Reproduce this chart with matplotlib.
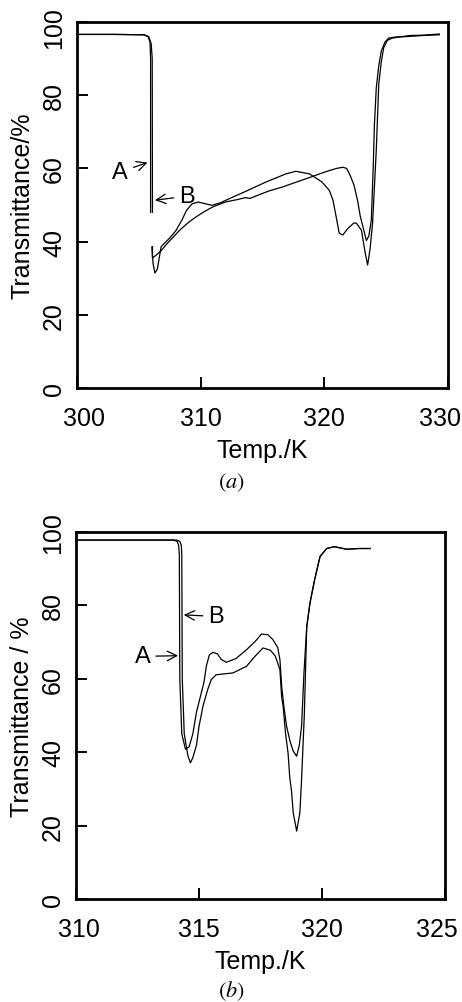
import numpy as np
import matplotlib.pyplot as plt
from matplotlib.transforms import ScaledTranslation

plt.rcParams['font.family'] = ['Liberation Sans', 'DejaVu Sans']
plt.rcParams['mathtext.fontset'] = 'stix'

nan = np.nan

# panel (a): temperature (K) and transmittance (%)
a_temp_A = [300.2, 303.0, 305.4, 305.75, 305.9, 305.95, 305.95, nan,
            306.05, 306.15, 306.3, 306.5, 306.8, 307.5, 308.0, 308.5, 308.85,
            309.3, 309.8, 310.3, 310.9, 311.6, 312.3, 313.5, 315.3, 316.9,
            317.7, 318.8, 319.8, 320.4, 320.7, 321.0, 321.2, 321.5, 321.9,
            322.4, 322.6, 323.0, 323.3, 323.5, 323.7, 323.9, 324.05, 324.2,
            324.4, 324.6, 324.8, 325.1, 325.5, 326.9, 328.0, 329.3]
a_trans_A = [96.6, 96.6, 96.5, 96.0, 94.5, 90, 48, nan,
             38.5, 34, 31.4, 32.5, 38.6, 41.0, 43.0, 46.0, 48.5,
             50.3, 50.8, 50.4, 49.9, 50.6, 51.7, 53.5, 56.3, 58.5,
             59.2, 58.5, 56.3, 54.0, 51.3, 46.0, 42.3, 41.8, 43.6,
             45.1, 45.0, 43.1, 37.0, 33.6, 38.0, 45.0, 55.0, 65.0,
             83.0, 89.0, 93.0, 95.0, 95.6, 96.3, 96.4, 96.7]

a_temp_B = [300.2, 303.0, 305.4, 305.8, 306.0, 306.08, 306.1, nan,
            306.1, 306.1, 306.4, 306.8, 307.3, 307.8, 308.3, 309.0, 309.65,
            310.3, 311.0, 312.0, 313.0, 313.6, 314.0, 314.5, 315.5, 316.6,
            317.7, 318.8, 319.7, 320.5, 321.0, 321.5, 321.8, 322.1, 322.4,
            322.7, 322.9, 323.2, 323.4, 323.6, 323.8, 323.95, 324.05, 324.2,
            324.4, 324.6, 324.9, 325.2, 325.8, 326.6, 328.0, 329.3]
a_trans_B = [96.6, 96.6, 96.5, 96.0, 94.0, 90, 48, nan,
             38.6, 35.5, 36.3, 37.5, 39.5, 41.3, 43.1, 45.2, 46.8,
             48.2, 49.5, 50.8, 51.5, 52.0, 51.8, 52.5, 53.8, 54.9,
             56.2, 57.5, 58.6, 59.5, 60.0, 60.3, 60.0, 58.0, 55.4,
             51.0, 47.0, 43.0, 40.3, 41.5, 45.9, 60.0, 72.0, 82.0,
             88.0, 92.0, 94.5, 95.6, 95.9, 96.0, 96.3, 96.5]

# panel (b)
b_temp_A = [310.1, 312.0, 313.95, 314.1, 314.17, 314.2, 314.22, 314.3,
            314.45, 314.6, 314.75, 314.9, 315.05, 315.2, 315.3, 315.42,
            315.56, 315.75, 315.9, 316.11, 316.5, 316.93, 317.3, 317.54,
            317.8, 318.0, 318.2, 318.29, 318.36, 318.46, 318.56, 318.7,
            318.83, 318.97, 319.08, 319.17, 319.27, 319.38, 319.51, 319.7,
            319.92, 320.19, 320.5, 321.0, 321.5, 321.96]
b_trans_A = [97.8, 97.8, 97.8, 97.5, 96.5, 94.0, 60.0, 45.0,
             40.8, 41.5, 45.0, 51.0, 55.0, 59.0, 63.5, 66.5,
             67.2, 66.8, 65.3, 64.5, 65.5, 67.9, 70.3, 72.2,
             72.0, 70.7, 68.5, 65.2, 57.9, 52.0, 47.1, 43.0,
             40.3, 38.9, 42.0, 47.1, 62.0, 74.2, 80.6, 87.0,
             93.3, 95.5, 96.0, 95.3, 95.5, 95.5]

b_temp_B = [310.1, 312.0, 314.1, 314.22, 314.28, 314.3, 314.32, 314.4,
            314.55, 314.65, 314.75, 314.9, 315.0, 315.16, 315.35, 315.5,
            315.7, 316.38, 316.93, 317.3, 317.6, 317.9, 318.1, 318.29,
            318.36, 318.42, 318.52, 318.62, 318.69, 318.76, 318.83, 318.97,
            319.1, 319.17, 319.28, 319.38, 319.51, 319.7, 319.92, 320.19,
            320.5, 321.0, 321.5, 321.96]
b_trans_B = [97.8, 97.8, 97.8, 97.4, 96.5, 94.0, 60.0, 45.0,
             39.0, 37.1, 38.5, 42.0, 47.0, 52.5, 57.0, 59.8,
             61.1, 61.6, 63.4, 66.3, 68.4, 67.8, 66.2, 62.5,
             55.0, 52.5, 45.0, 39.8, 33.0, 29.5, 23.5, 18.5,
             23.5, 32.6, 50.0, 74.2, 80.6, 87.0, 93.3, 95.5,
             96.0, 95.3, 95.5, 95.5]

a_xticks = [300, 310, 320, 330]
b_xticks = [310, 315, 320, 325]
yticks = [0, 20, 40, 60, 80, 100]

fig = plt.figure(figsize=(4.62, 10.03), dpi=100)
ax1 = fig.add_axes([0.1667, 0.6122, 0.803, 0.3649])
ax2 = fig.add_axes([0.1645, 0.1027, 0.7987, 0.3659])


def shift(label, dx, dy):
    # nudge a tick label by some pixels (the end labels sit a bit inward)
    off = ScaledTranslation(dx / 100, dy / 100, fig.dpi_scale_trans)
    label.set_transform(label.get_transform() + off)


def style(ax, xticks, xlim, ylabel):
    ax.set_xlim(*xlim)
    ax.set_ylim(0, 100)
    ax.set_xticks(xticks)
    ax.set_yticks(yticks)
    ax.set_yticklabels([str(t) for t in yticks], rotation=90, va='center')
    ax.tick_params(direction='in', length=8, width=1.4, labelsize=18)
    ax.tick_params(axis='x', pad=13)
    ax.tick_params(axis='y', pad=8)
    for s in ax.spines.values():
        s.set_linewidth(2.0)
    ax.set_xlabel('Temp./K', fontsize=18, labelpad=6)
    ax.set_ylabel(ylabel, fontsize=18, labelpad=5)


ax1.plot(a_temp_A, a_trans_A, color='black', lw=0.9)
ax1.plot(a_temp_B, a_trans_B, color='black', lw=0.9)
style(ax1, a_xticks, (300, 330), 'Transmittance/%')

arrow = dict(arrowstyle='->', color='black', lw=0.9, shrinkA=2, shrinkB=0)
ax1.annotate('A', xy=(305.7, 61.6), xytext=(303.5, 59.0), fontsize=17,
             ha='center', va='center', arrowprops=arrow)
ax1.annotate('B', xy=(306.3, 51.3), xytext=(308.9, 52.4), fontsize=17,
             ha='center', va='center', arrowprops=arrow)

ax2.plot(b_temp_A, b_trans_A, color='black', lw=0.9)
ax2.plot(b_temp_B, b_trans_B, color='black', lw=0.9)
style(ax2, b_xticks, (310, 325), 'Transmittance / %')

ax2.annotate('B', xy=(314.38, 77.4), xytext=(315.7, 77.0), fontsize=17,
             ha='center', va='center', arrowprops=arrow)
ax2.annotate('A', xy=(314.15, 66.3), xytext=(312.7, 66.1), fontsize=17,
             ha='center', va='center', arrowprops=arrow)

xl1 = ax1.get_xticklabels()
shift(xl1[0], 7, 0)
shift(xl1[-1], -8, 0)
shift(ax1.get_yticklabels()[-1], 0, -5)
xl2 = ax2.get_xticklabels()
shift(xl2[0], 3, 0)
shift(xl2[-1], -8, 0)

fig.text(0.5, 1 - 483 / 1003, r'$(a)$', ha='center', va='center', fontsize=16)
fig.text(0.5, 1 - 991 / 1003, r'$(b)$', ha='center', va='center', fontsize=16)

fig.savefig('out.png', dpi=100)
